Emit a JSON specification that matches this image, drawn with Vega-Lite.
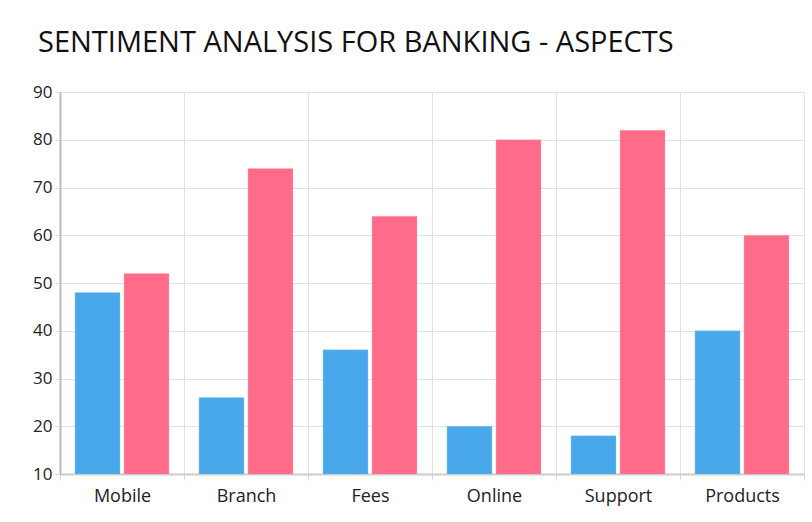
{
  "$schema": "https://vega.github.io/schema/vega-lite/v6.json",
  "width": 744,
  "height": 382,
  "autosize": {"type": "none"},
  "padding": {"left": 60, "top": 92, "right": 8, "bottom": 48},
  "background": "white",
  "title": {
    "text": "SENTIMENT ANALYSIS FOR BANKING - ASPECTS",
    "anchor": "start",
    "frame": "group",
    "font": "Open Sans",
    "fontSize": 29,
    "fontWeight": "normal",
    "color": "#111111",
    "dx": -22,
    "offset": 25
  },
  "data": {
    "values": [
      {"aspect": "Mobile", "sentiment": "Negative", "value": 48},
      {"aspect": "Mobile", "sentiment": "Positive", "value": 52},
      {"aspect": "Branch", "sentiment": "Negative", "value": 26},
      {"aspect": "Branch", "sentiment": "Positive", "value": 74},
      {"aspect": "Fees", "sentiment": "Negative", "value": 36},
      {"aspect": "Fees", "sentiment": "Positive", "value": 64},
      {"aspect": "Online", "sentiment": "Negative", "value": 20},
      {"aspect": "Online", "sentiment": "Positive", "value": 80},
      {"aspect": "Support", "sentiment": "Negative", "value": 18},
      {"aspect": "Support", "sentiment": "Positive", "value": 82},
      {"aspect": "Products", "sentiment": "Negative", "value": 40},
      {"aspect": "Products", "sentiment": "Positive", "value": 60}
    ]
  },
  "mark": {"type": "bar", "clip": true, "strokeWidth": 1, "strokeOpacity": 0.4},
  "encoding": {
    "x": {
      "field": "aspect",
      "type": "nominal",
      "sort": ["Mobile", "Branch", "Fees", "Online", "Support", "Products"],
      "scale": {"paddingInner": 0, "paddingOuter": 0},
      "axis": {
        "title": null,
        "labelAngle": 0,
        "labelFont": "Open Sans",
        "labelFontSize": 18,
        "labelColor": "#222222",
        "labelPadding": 7,
        "tickBand": "extent",
        "tickSize": 6,
        "tickColor": "#d9d9d9",
        "domainColor": "#cccccc",
        "domainWidth": 2,
        "grid": true,
        "gridColor": "#e2e2e2"
      }
    },
    "xOffset": {
      "field": "sentiment",
      "type": "nominal",
      "scale": {"paddingInner": 0.0816, "paddingOuter": 0.306}
    },
    "y": {
      "field": "value",
      "type": "quantitative",
      "scale": {"domain": [10, 90], "nice": false, "zero": false},
      "axis": {
        "title": null,
        "values": [10, 20, 30, 40, 50, 60, 70, 80, 90],
        "labelFont": "Open Sans",
        "labelFontSize": 17,
        "labelColor": "#222222",
        "labelPadding": 3,
        "tickSize": 5,
        "tickColor": "#d9d9d9",
        "domainColor": "#bbbbbb",
        "domainWidth": 2,
        "gridColor": "#e2e2e2"
      }
    },
    "color": {
      "field": "sentiment",
      "type": "nominal",
      "scale": {"domain": ["Negative", "Positive"], "range": ["#48A8EA", "#FF6C8A"]},
      "legend": null
    },
    "stroke": {
      "field": "sentiment",
      "type": "nominal",
      "scale": {"domain": ["Negative", "Positive"], "range": ["#9fd0f5", "#ffb0c0"]},
      "legend": null
    }
  },
  "config": {
    "view": {"stroke": null}
  }
}
